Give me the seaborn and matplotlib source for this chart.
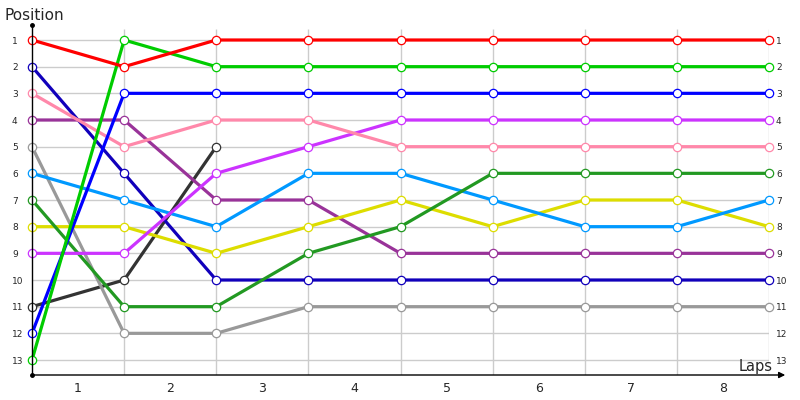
import numpy as np
import pandas as pd
import seaborn as sns
import matplotlib.pyplot as plt

# lap chart data: position of each car at the end of each lap (lap 0 = grid)
laps = list(range(9))
lap_labels = ["1", "2", "3", "4", "5", "6", "7", "8"]
positions = list(range(1, 14))

red = [1, 2, 1, 1, 1, 1, 1, 1, 1]
light_green = [13, 1, 2, 2, 2, 2, 2, 2, 2]
blue = [12, 3, 3, 3, 3, 3, 3, 3, 3]
pink = [3, 5, 4, 4, 5, 5, 5, 5, 5]
violet = [9, 9, 6, 5, 4, 4, 4, 4, 4]
dark_green = [7, 11, 11, 9, 8, 6, 6, 6, 6]
sky_blue = [6, 7, 8, 6, 6, 7, 8, 8, 7]
yellow = [8, 8, 9, 8, 7, 8, 7, 7, 8]
purple = [4, 4, 7, 7, 9, 9, 9, 9, 9]
navy = [2, 6, 10, 10, 10, 10, 10, 10, 10]
gray = [5, 12, 12, 11, 11, 11, 11, 11, 11]
black = [11, 10, 5]  # retired after lap 2

series = [
    (black, "#333333"),
    (gray, "#999999"),
    (navy, "#1100bb"),
    (purple, "#993399"),
    (yellow, "#dddd00"),
    (sky_blue, "#0099ff"),
    (dark_green, "#229922"),
    (violet, "#cc33ff"),
    (pink, "#ff88aa"),
    (blue, "#0000ff"),
    (light_green, "#00cc00"),
    (red, "#ff0000"),
]

sns.set_style("white")
plt.rcParams['font.family'] = ['DejaVu Sans']

fig = plt.figure(figsize=(8, 4), dpi=100)
ax = fig.add_axes([32 / 800, 25 / 400, (769 - 32) / 800, 350 / 400])

# light grid
ax.hlines(positions, laps[0], laps[-1], color="#cccccc", lw=1, zorder=0)
ax.vlines(laps[1:], 0.6, 13.6, color="#cccccc", lw=1, zorder=0)

for pos, c in series:
    sns.lineplot(x=laps[:len(pos)], y=pos, ax=ax, color=c, lw=2.3,
                 marker="o", markersize=6, markerfacecolor="white",
                 markeredgecolor=c, markeredgewidth=0.9, clip_on=False)

ax.set_xlim(0, 8)
ax.set_ylim(13.5625, 0.4375)

ax.set_xticks([l + 0.5 for l in laps[:-1]])
ax.set_xticklabels(lap_labels, fontsize=9)
ax.tick_params(axis="x", length=0, pad=5)

ax.set_yticks(positions)
ax.set_yticklabels([str(p) for p in positions], fontsize=6.5)
for lab in ax.get_yticklabels():
    lab.set_horizontalalignment("left")
ax.tick_params(axis="y", length=0, pad=14.4)

ax2 = ax.twinx()
ax2.set_ylim(ax.get_ylim())
ax2.set_yticks(positions)
ax2.set_yticklabels([str(p) for p in positions], fontsize=6.5)
ax2.tick_params(axis="y", length=0, pad=5)
for s in ax2.spines.values():
    s.set_visible(False)

ax.set_xlabel("")
ax.set_ylabel("")
for s in ["top", "right", "bottom"]:
    ax.spines[s].set_visible(False)
ax.spines["left"].set_color("black")
ax.spines["left"].set_linewidth(1)

# axis decorations: arrow on the x axis, dots at the ends
ax.annotate("", xy=(1.022, 0), xytext=(0, 0), xycoords="axes fraction",
            arrowprops=dict(arrowstyle="-|>", color="black", lw=1,
                            mutation_scale=9, shrinkA=0, shrinkB=0))
ax.plot([0, 0], [0, 1], "o", color="black", ms=2.5, transform=ax.transAxes,
        clip_on=False)

fig.text(5 / 800, 1 - 15 / 400, "Position", fontsize=11, va="center", ha="left")
fig.text(773 / 800, 1 - 366 / 400, "Laps", fontsize=10.5, va="center", ha="right")

fig.savefig("out.png", dpi=100)
